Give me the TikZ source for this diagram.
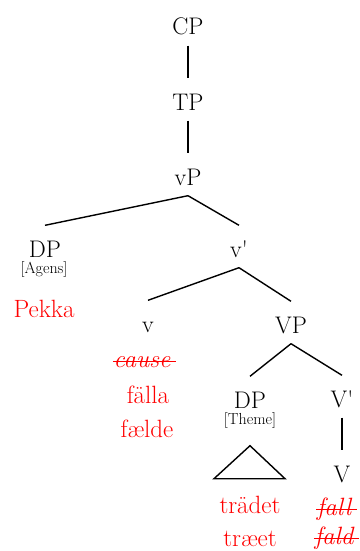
\documentclass[tikz,border=0pt]{standalone}
\usepackage{fontspec}

\begin{document}
\begin{tikzpicture}[x=1pt,y=-1pt,line width=1.4pt,
    cat/.style={font=\fontsize{24}{28}\selectfont,text height=16pt,text depth=0pt,inner sep=0pt,anchor=base},
    role/.style={font=\fontsize{16}{19}\selectfont,inner sep=0pt,anchor=base},
    word/.style={font=\fontsize{25}{29}\selectfont,text=red,inner sep=0pt,anchor=base},
    gone/.style={word,font=\fontsize{25}{29}\selectfont\itshape}]
    \useasboundingbox (0,0) rectangle (359,551);
    % categories
    \node[cat] (CP) at (188,35) {CP};
    \node[cat] (TP) at (188,110) {TP};
    \node[cat] (vP) at (188,185) {vP};
    \node[cat] (DPa) at (45,257) {DP};
    \node[cat] (vbar) at (239,257) {v\textquotesingle};
    \node[cat] (v) at (148,332) {v};
    \node[cat] (VP) at (291,333) {VP};
    \node[cat] (DPt) at (250,408) {DP};
    \node[cat] (Vbar) at (342,407) {V\textquotesingle};
    \node[cat] (V) at (342,482) {V};
    \node[role] (agens) at (44,273) {[Agens]};
    \node[role] (theme) at (250,424) {[Theme]};
    % lexical material
    \node[word] (pekka) at (44,317) {Pekka};
    \node[gone] (cause) at (142,367) {cause};
    \node[word] (falla) at (148,403) {fälla};
    \node[word] (faelde) at (147,437) {fælde};
    \node[word] (tradet) at (250,513) {trädet};
    \node[word] (traeet) at (250,546) {træet};
    \node[gone] (fall) at (334,515) {fall};
    \node[gone] (fald) at (334,544) {fald};
    % branches
    \foreach \a/\b in {CP/TP,TP/vP,vP/DPa,vP/vbar,vbar/v,vbar/VP,VP/DPt,VP/Vbar,Vbar/V} {
      \draw ([yshift=-10pt]\a.south) -- ([yshift=15pt]\b.north);
    }
    \draw ([yshift=-37pt]DPt.south) -- ++(-36,33) -- ++(71,0) -- cycle;
    \foreach \w in {cause,fall,fald} {
      \draw[red,line width=1pt] ([yshift=6pt]\w.base west) -- ([xshift=5pt,yshift=6pt]\w.base east);
    }
  \end{tikzpicture}
\end{document}
